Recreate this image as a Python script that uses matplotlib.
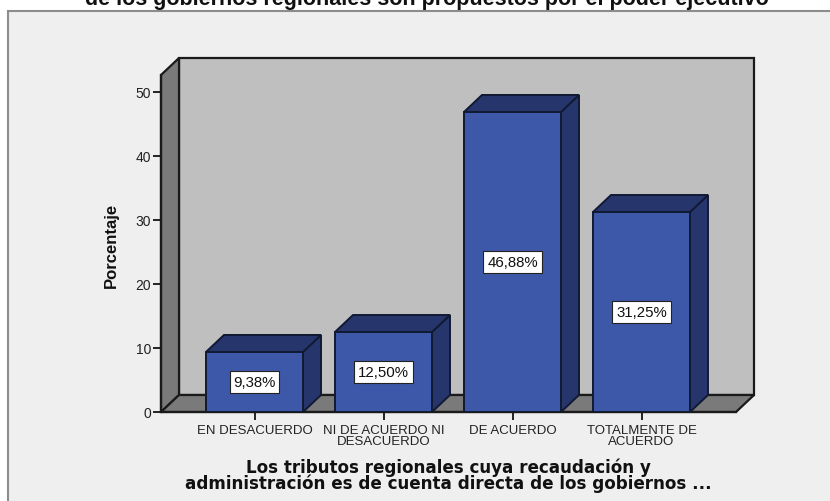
import matplotlib
matplotlib.use("Agg")
import matplotlib.pyplot as plt
from matplotlib.patches import Polygon, Rectangle

categories = ["EN DESACUERDO", "NI DE ACUERDO NI\nDESACUERDO", "DE ACUERDO", "TOTALMENTE DE\nACUERDO"]
values = [9.38, 12.50, 46.88, 31.25]
value_labels = ["9,38%", "12,50%", "46,88%", "31,25%"]
yticks = [0, 10, 20, 30, 40, 50]
title = "de los gobiernos regionales son propuestos por el poder ejecutivo"
xlabel = "Los tributos regionales cuya recaudación y\nadministración es de cuenta directa de los gobiernos ..."
ylabel = "Porcentaje"

W, H = 830, 502
plt.rcParams["font.family"] = ["Liberation Sans", "DejaVu Sans"]

fig = plt.figure(figsize=(W / 100, H / 100), dpi=100, facecolor="white")

# outer panel, runs off the right and bottom edge of the image
fig.add_artist(Rectangle((8 / W, -0.02), 1, (H - 12) / H + 0.02, transform=fig.transFigure,
                         facecolor="#efefef", edgecolor="#8c8c8c", linewidth=1.5, zorder=-1))

# axes = front plane of the 3d box, 6.4 px per percent, 129 px per category
left, right, bottom, top = 161, 753, 413, 58
ax = fig.add_axes([left / W, 1 - bottom / H, (right - left) / W, (bottom - top) / H])
ax.patch.set_alpha(0)
px_x = 129.0
px_y = 6.4
ax.set_xlim((left - 254.5) / px_x, (right - 254.5) / px_x)
ax.set_ylim(0, (bottom - top) / px_y)
dx = 18 / px_x
dy = 17 / px_y
x0 = ax.get_xlim()[0]
x1 = (736 - 254.5) / px_x
ytop = (bottom - 76) / px_y
edge = "#1a1a1a"

# back wall, left wall, floor
ax.add_patch(Polygon([(x0 + dx, dy), (x1 + dx, dy), (x1 + dx, ytop + dy), (x0 + dx, ytop + dy)],
                     facecolor="#bfbfbf", edgecolor=edge, linewidth=1.6, clip_on=False))
ax.add_patch(Polygon([(x0, 0), (x0 + dx, dy), (x0 + dx, ytop + dy), (x0, ytop)],
                     facecolor="#7a7a7a", edgecolor=edge, linewidth=1.6, clip_on=False))
ax.add_patch(Polygon([(x0, 0), (x1, 0), (x1 + dx, dy), (x0 + dx, dy)],
                     facecolor="#7a7a7a", edgecolor=edge, linewidth=1.6, clip_on=False))

bar_w = 97 / px_x
for i, v in enumerate(values):
    l = i - bar_w / 2
    r = i + bar_w / 2
    ax.add_patch(Polygon([(r, 0), (r + dx, dy), (r + dx, v + dy), (r, v)],
                         facecolor="#26356b", edgecolor="#111a33", linewidth=1.4, zorder=3))
    ax.add_patch(Polygon([(l, v), (r, v), (r + dx, v + dy), (l + dx, v + dy)],
                         facecolor="#26356b", edgecolor="#111a33", linewidth=1.4, zorder=3))
    ax.bar(i, v, width=bar_w, color="#3d58a9", edgecolor="#111a33", linewidth=1.4, zorder=4)
    ax.text(i, v / 2, value_labels[i], ha="center", va="center", fontsize=10.8, color="#111111", zorder=5,
            bbox=dict(boxstyle="square,pad=0.25", facecolor="white", edgecolor="#222222", linewidth=0.8))

for side in ["top", "right"]:
    ax.spines[side].set_visible(False)
ax.spines["left"].set_bounds(0, ytop)
ax.spines["bottom"].set_bounds(x0, x1)
ax.spines["left"].set_linewidth(1.6)
ax.spines["bottom"].set_linewidth(1.6)
ax.spines["left"].set_color(edge)
ax.spines["bottom"].set_color(edge)

ax.set_yticks(yticks)
ax.set_xticks(range(len(categories)))
ax.set_xticklabels(categories, fontsize=9.5, linespacing=0.85, color="#222222")
ax.tick_params(axis="y", length=6, width=1.2, labelsize=10, pad=1, labelcolor="#222222")
ax.tick_params(axis="x", length=6, width=1.2, pad=3)

fig.text(111 / W, 1 - 245 / H, ylabel, rotation=90, ha="center", va="center",
         fontsize=12, fontweight="bold", color="#111111")
fig.text(448 / W, 1 - 476 / H, xlabel, ha="center", va="center", family="DejaVu Sans",
         fontsize=12.1, fontweight="bold", linespacing=0.85, color="#111111")
fig.text(427 / W, 1 - 0 / H, title, ha="center", va="center", fontsize=15.5, fontweight="bold", color="#111111")

fig.savefig("out.png", dpi=100)
